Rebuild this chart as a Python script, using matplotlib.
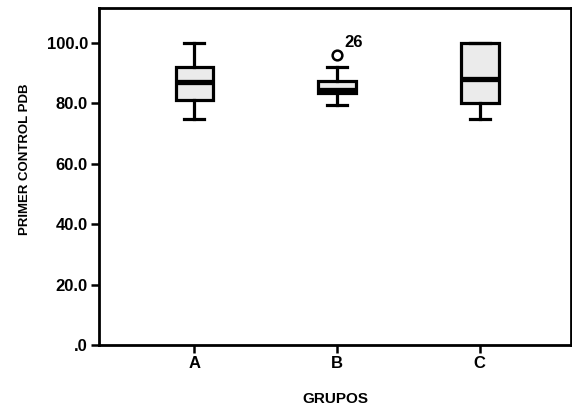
import matplotlib
matplotlib.use("Agg")
import matplotlib.pyplot as plt

groups = ["A", "B", "C"]
q1 = [81.0, 83.5, 80.0]
med = [87.0, 84.5, 88.0]
q3 = [92.0, 87.5, 100.0]
whislo = [75.0, 79.5, 75.0]
whishi = [100.0, 92.0, 100.0]
outliers = [[], [96.0], []]
outlier_labels = [[], ["26"], []]

plt.rcParams['font.family'] = ['Liberation Sans', 'DejaVu Sans']

fig = plt.figure(figsize=(5.72, 4.11), dpi=100)
ax = fig.add_axes([0.173, 0.1606, 0.825, 0.82])

stats = []
for i, g in enumerate(groups):
    stats.append(dict(label=g, q1=q1[i], med=med[i], q3=q3[i],
                      whislo=whislo[i], whishi=whishi[i], fliers=outliers[i]))
pos = [1, 2, 3]
ax.bxp(stats, positions=pos, widths=0.265, patch_artist=True,
       boxprops=dict(facecolor='#ebebeb', edgecolor='black', linewidth=2.3),
       medianprops=dict(color='black', linewidth=3.8),
       whiskerprops=dict(color='black', linewidth=2.3),
       capprops=dict(color='black', linewidth=2.3),
       capwidths=0.14,
       flierprops=dict(marker='o', markerfacecolor='white', markeredgecolor='black',
                       markersize=7, markeredgewidth=1.8))

for i, labs in enumerate(outlier_labels):
    for v, lab in zip(outliers[i], labs):
        ax.annotate(lab, (pos[i], v), xytext=(5, 4), textcoords='offset points',
                    fontsize=12, fontweight='bold', ha='left', va='bottom')

ax.set_xlim(0.33, 3.64)
ax.set_ylim(0, 111.6)
ax.set_yticks([0, 20, 40, 60, 80, 100])
ax.set_yticklabels([".0", "20.0", "40.0", "60.0", "80.0", "100.0"])
ax.set_xticks(pos)
ax.set_xticklabels(groups)
for s in ax.spines.values():
    s.set_linewidth(2)
ax.tick_params(direction='out', length=6, width=1.8, labelsize=12, pad=2)
for t in ax.get_xticklabels() + ax.get_yticklabels():
    t.set_fontweight('bold')
ax.set_ylabel("PRIMER CONTROL PDB", fontsize=9.5, fontweight='bold')
ax.yaxis.set_label_coords(-0.145, 0.55)
ax.set_xlabel("GRUPOS", fontsize=11, fontweight='bold', labelpad=15)

fig.savefig("out.png", dpi=100)
